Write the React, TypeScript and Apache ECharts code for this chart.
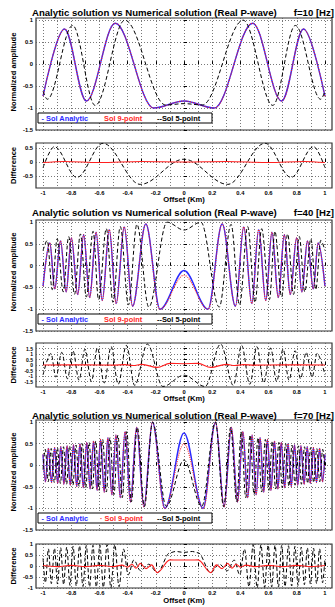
import React, { useEffect, useRef } from 'react';
import * as echarts from 'echarts';

// ---------------- data ----------------
const X_TICKS = [-1, -0.9, -0.8, -0.7, -0.6, -0.5, -0.4, -0.3, -0.2, -0.1, 0, 0.1, 0.2, 0.3, 0.4, 0.5, 0.6, 0.7, 0.8, 0.9, 1];
const X_LABELS = [-1, -0.8, -0.6, -0.4, -0.2, 0, 0.2, 0.4, 0.6, 0.8, 1];
const Y_MAIN_TICKS = [-1.5, -1, -0.5, 0, 0.5, 1];
const Y_DIFF_TICKS_10 = [-0.5, 0, 0.5];
const Y_DIFF_TICKS_40 = [-1.5, -1, -0.5, 0, 0.5, 1, 1.5];
const Y_DIFF_TICKS_70 = [-1, -0.5, 0, 0.5, 1];
const FREQ_LABELS = ['f=10 [Hz]', 'f=40 [Hz]', 'f=70 [Hz]'];
const TITLE = 'Analytic solution vs Numerical solution (Real P-wave)';
const LEGEND_ANA = '- Sol Analytic';
const LEGEND_NINE = ['Sol 9-point', 'Sol 9-point', '\u00b7 Sol 9-point'];
const LEGEND_FIVE = '--Sol 5-point';

// f = 10 Hz
const ana10 = [[-1.0, -0.73], [-0.848, 0.80], [-0.693, -0.84], [-0.488, 0.93], [-0.215, -1.0], [0, -0.84], [0.215, -1.0], [0.488, 0.93], [0.693, -0.84], [0.848, 0.80], [1.0, -0.73]];
const nine10 = [[-1.0, -0.73], [-0.848, 0.80], [-0.693, -0.84], [-0.488, 0.93], [-0.215, -1.0], [0, -0.84], [0.215, -1.0], [0.488, 0.93], [0.693, -0.84], [0.848, 0.80], [1.0, -0.73]];
const five10 = [[-1.0, -0.62], [-0.97, -0.80], [-0.79, 0.88], [-0.63, -0.94], [-0.42, 1.0], [-0.13, -0.93], [0, -0.90], [0.13, -0.93], [0.42, 1.0], [0.63, -0.94], [0.79, 0.88], [0.97, -0.80], [1.0, -0.62]];
const diffFive10 = [[-1.0, -0.2], [-0.92, 0.55], [-0.76, -0.55], [-0.575, 0.67], [-0.31, -0.8], [0, 0.1], [0.31, -0.8], [0.575, 0.67], [0.76, -0.55], [0.92, 0.55], [1.0, -0.2]];
const diffNine10 = [[-1.0, -0.02], [-0.85, 0.02], [-0.6, -0.02], [-0.3, 0.02], [0, 0.0], [0.3, 0.02], [0.6, -0.02], [0.85, 0.02], [1.0, -0.02]];

// f = 40 Hz
const ana40 = [[-1.0, -0.47], [-0.952, 0.52], [-0.917, -0.53], [-0.876, 0.57], [-0.836, -0.60], [-0.799, 0.64], [-0.754, -0.66], [-0.712, 0.71], [-0.669, -0.73], [-0.624, 0.77], [-0.580, -0.80], [-0.530, 0.83], [-0.481, -0.87], [-0.424, 0.89], [-0.365, -0.93], [-0.271, 0.96], [-0.170, -1.0], [0, -0.11], [0.170, -1.0], [0.271, 0.96], [0.365, -0.93], [0.424, 0.89], [0.481, -0.87], [0.530, 0.83], [0.580, -0.80], [0.624, 0.77], [0.669, -0.73], [0.712, 0.71], [0.754, -0.66], [0.799, 0.64], [0.836, -0.60], [0.876, 0.57], [0.917, -0.53], [0.952, 0.52], [1.0, -0.47]];
const nine40 = [[-1.0, -0.47], [-0.952, 0.52], [-0.917, -0.53], [-0.876, 0.57], [-0.836, -0.60], [-0.799, 0.64], [-0.754, -0.66], [-0.712, 0.71], [-0.669, -0.73], [-0.624, 0.77], [-0.580, -0.80], [-0.530, 0.83], [-0.481, -0.87], [-0.424, 0.89], [-0.365, -0.93], [-0.271, 0.96], [-0.172, -1.0], [0, -0.22], [0.172, -1.0], [0.271, 0.96], [0.365, -0.93], [0.424, 0.89], [0.481, -0.87], [0.530, 0.83], [0.580, -0.80], [0.624, 0.77], [0.669, -0.73], [0.712, 0.71], [0.754, -0.66], [0.799, 0.64], [0.836, -0.60], [0.876, 0.57], [0.917, -0.53], [0.952, 0.52], [1.0, -0.47]];
const five40 = [[-1.0, 0.35], [-0.970, 0.58], [-0.935, -0.55], [-0.900, 0.62], [-0.857, -0.60], [-0.818, 0.67], [-0.777, -0.66], [-0.735, 0.73], [-0.693, -0.72], [-0.645, 0.79], [-0.606, -0.78], [-0.551, 0.85], [-0.504, -0.84], [-0.452, 0.90], [-0.394, -0.90], [-0.334, 0.95], [-0.250, -0.95], [-0.120, 1.0], [0, 0.82], [0.120, 1.0], [0.250, -0.95], [0.334, 0.95], [0.394, -0.90], [0.452, 0.90], [0.504, -0.84], [0.551, 0.85], [0.606, -0.78], [0.645, 0.79], [0.693, -0.72], [0.735, 0.73], [0.777, -0.66], [0.818, 0.67], [0.857, -0.60], [0.900, 0.62], [0.935, -0.55], [0.970, 0.58], [1.0, 0.35]];
const diffFive40 = [[-1.0, -0.9], [-0.944, 1.05], [-0.909, -1.1], [-0.867, 1.15], [-0.827, -1.25], [-0.788, 1.3], [-0.745, -1.38], [-0.703, 1.43], [-0.657, -1.5], [-0.615, 1.55], [-0.566, -1.63], [-0.517, 1.67], [-0.467, -1.75], [-0.409, 1.78], [-0.35, -1.85], [-0.26, 1.9], [-0.15, -1.95], [0, -0.93], [0.15, -1.95], [0.26, 1.9], [0.35, -1.85], [0.409, 1.78], [0.467, -1.75], [0.517, 1.67], [0.566, -1.63], [0.615, 1.55], [0.657, -1.5], [0.703, 1.43], [0.745, -1.38], [0.788, 1.3], [0.827, -1.25], [0.867, 1.15], [0.909, -1.1], [0.944, 1.05], [1.0, -0.9]];
const diffNine40 = [[-1.0, 0.0], [-0.7, 0.01], [-0.5, -0.01], [-0.42, 0.03], [-0.36, -0.05], [-0.3, 0.06], [-0.19, -0.22], [-0.1, 0.15], [0, 0.12], [0.1, 0.15], [0.19, -0.22], [0.3, 0.06], [0.36, -0.05], [0.42, 0.03], [0.5, -0.01], [0.7, 0.01], [1.0, 0.0]];

// f = 70 Hz
const ana70 = [[-1.0, 0.25], [-0.983, -0.38], [-0.962, 0.39], [-0.940, -0.40], [-0.918, 0.41], [-0.896, -0.42], [-0.874, 0.43], [-0.852, -0.44], [-0.830, 0.45], [-0.807, -0.46], [-0.784, 0.47], [-0.761, -0.49], [-0.738, 0.50], [-0.714, -0.52], [-0.690, 0.53], [-0.666, -0.55], [-0.642, 0.56], [-0.617, -0.58], [-0.592, 0.60], [-0.566, -0.62], [-0.540, 0.64], [-0.512, -0.68], [-0.483, 0.70], [-0.452, -0.75], [-0.418, 0.78], [-0.380, -0.85], [-0.336, 0.88], [-0.285, -0.96], [-0.224, 1.0], [-0.135, -1.0], [0, 0.75], [0.135, -1.0], [0.224, 1.0], [0.285, -0.96], [0.336, 0.88], [0.380, -0.85], [0.418, 0.78], [0.452, -0.75], [0.483, 0.70], [0.512, -0.68], [0.540, 0.64], [0.566, -0.62], [0.592, 0.60], [0.617, -0.58], [0.642, 0.56], [0.666, -0.55], [0.690, 0.53], [0.714, -0.52], [0.738, 0.50], [0.761, -0.49], [0.784, 0.47], [0.807, -0.46], [0.830, 0.45], [0.852, -0.44], [0.874, 0.43], [0.896, -0.42], [0.918, 0.41], [0.940, -0.40], [0.962, 0.39], [0.983, -0.38], [1.0, 0.25]];
const nine70 = [[-1.0, 0.25], [-0.983, -0.38], [-0.962, 0.39], [-0.940, -0.40], [-0.918, 0.41], [-0.896, -0.42], [-0.874, 0.43], [-0.852, -0.44], [-0.830, 0.45], [-0.807, -0.46], [-0.784, 0.47], [-0.761, -0.49], [-0.738, 0.50], [-0.714, -0.52], [-0.690, 0.53], [-0.666, -0.55], [-0.642, 0.56], [-0.617, -0.58], [-0.592, 0.60], [-0.566, -0.62], [-0.540, 0.64], [-0.512, -0.68], [-0.483, 0.70], [-0.452, -0.75], [-0.418, 0.78], [-0.380, -0.85], [-0.336, 0.88], [-0.285, -0.96], [-0.224, 1.0], [-0.138, -1.0], [0, 0.5], [0.138, -1.0], [0.224, 1.0], [0.285, -0.96], [0.336, 0.88], [0.380, -0.85], [0.418, 0.78], [0.452, -0.75], [0.483, 0.70], [0.512, -0.68], [0.540, 0.64], [0.566, -0.62], [0.592, 0.60], [0.617, -0.58], [0.642, 0.56], [0.666, -0.55], [0.690, 0.53], [0.714, -0.52], [0.738, 0.50], [0.761, -0.49], [0.784, 0.47], [0.807, -0.46], [0.830, 0.45], [0.852, -0.44], [0.874, 0.43], [0.896, -0.42], [0.918, 0.41], [0.940, -0.40], [0.962, 0.39], [0.983, -0.38], [1.0, 0.25]];
const five70 = [[-1.0, -0.1], [-0.984, 0.37], [-0.963, -0.38], [-0.942, 0.39], [-0.920, -0.40], [-0.898, 0.41], [-0.877, -0.42], [-0.855, 0.43], [-0.833, -0.44], [-0.812, 0.45], [-0.788, -0.46], [-0.766, 0.47], [-0.744, -0.49], [-0.721, 0.50], [-0.697, -0.52], [-0.673, 0.53], [-0.650, -0.55], [-0.626, 0.56], [-0.602, -0.58], [-0.577, 0.60], [-0.551, -0.62], [-0.525, 0.64], [-0.497, -0.68], [-0.469, 0.70], [-0.438, -0.75], [-0.406, 0.78], [-0.374, -0.85], [-0.331, 0.88], [-0.281, -0.96], [-0.223, 1.0], [-0.126, -0.95], [0, 0.12], [0.126, -0.95], [0.223, 1.0], [0.281, -0.96], [0.331, 0.88], [0.374, -0.85], [0.406, 0.78], [0.438, -0.75], [0.469, 0.70], [0.497, -0.68], [0.525, 0.64], [0.551, -0.62], [0.577, 0.60], [0.602, -0.58], [0.626, 0.56], [0.650, -0.55], [0.673, 0.53], [0.697, -0.52], [0.721, 0.50], [0.744, -0.49], [0.766, 0.47], [0.788, -0.46], [0.812, 0.45], [0.833, -0.44], [0.855, 0.43], [0.877, -0.42], [0.898, 0.41], [0.920, -0.40], [0.942, 0.39], [0.963, -0.38], [0.984, 0.37], [1.0, -0.1]];
const diffFive70 = [[-1.0, 0.35], [-0.983, -0.76], [-0.962, 0.78], [-0.941, -0.80], [-0.919, 0.81], [-0.897, -0.82], [-0.875, 0.83], [-0.854, -0.85], [-0.832, 0.86], [-0.809, -0.88], [-0.787, 0.89], [-0.764, -0.91], [-0.741, 0.92], [-0.717, -0.93], [-0.693, 0.93], [-0.670, -0.95], [-0.646, 0.94], [-0.622, -0.95], [-0.597, 0.95], [-0.572, -0.97], [-0.546, 0.97], [-0.519, -0.99], [-0.491, 0.97], [-0.461, -0.94], [-0.429, 0.77], [-0.396, -0.40], [-0.356, 0.27], [-0.309, -0.21], [-0.25, 0.08], [-0.19, -0.3], [-0.1, 0.6], [-0.06, 0.66], [0, 0.62], [0.06, 0.66], [0.1, 0.6], [0.19, -0.3], [0.25, 0.08], [0.309, -0.21], [0.356, 0.27], [0.396, -0.40], [0.429, 0.77], [0.461, -0.94], [0.491, 0.97], [0.519, -0.99], [0.546, 0.97], [0.572, -0.97], [0.597, 0.95], [0.622, -0.95], [0.646, 0.94], [0.670, -0.95], [0.693, 0.93], [0.717, -0.93], [0.741, 0.92], [0.764, -0.91], [0.787, 0.89], [0.809, -0.88], [0.832, 0.86], [0.854, -0.85], [0.875, 0.83], [0.897, -0.82], [0.919, 0.81], [0.941, -0.80], [0.962, 0.78], [0.983, -0.76], [1.0, 0.35]];
const diffNine70 = [[-1.0, 0.02], [-0.9, -0.03], [-0.8, 0.03], [-0.7, -0.03], [-0.6, 0.03], [-0.5, -0.03], [-0.44, 0.04], [-0.40, -0.05], [-0.37, 0.08], [-0.34, -0.1], [-0.31, 0.12], [-0.27, -0.12], [-0.23, 0.05], [-0.19, -0.3], [-0.1, 0.28], [-0.05, 0.27], [0, 0.27], [0.05, 0.27], [0.1, 0.28], [0.19, -0.3], [0.23, 0.05], [0.27, -0.12], [0.31, 0.12], [0.34, -0.1], [0.37, 0.08], [0.40, -0.05], [0.44, 0.04], [0.5, -0.03], [0.6, 0.03], [0.7, -0.03], [0.8, 0.03], [0.9, -0.03], [1.0, 0.02]];

// ---------------- presentation ----------------
const FONT = '"Liberation Sans", Arial, sans-serif';
const BLUE = '#2a2aff';
const RED = '#ff1f1f';
const BLACK = '#000000';

const LAYOUT = [
  { title: 12, mainTop: 18, mainH: 112, diffTop: 143, diffH: 45, off: 199, nameMain: 72 },
  { title: 212, mainTop: 220, mainH: 111, diffTop: 343, diffH: 44, off: 398.5, nameMain: 272 },
  { title: 415, mainTop: 420, mainH: 110, diffTop: 544, diffH: 44, off: 600.5, nameMain: 472 },
];

const PANELS = [
  { ana: ana10, nine: nine10, five: five10, dNine: diffNine10, dFive: diffFive10, dMin: -0.93, dMax: 0.68, dTicks: Y_DIFF_TICKS_10, dFs: 5.8 },
  { ana: ana40, nine: nine40, five: five40, dNine: diffNine40, dFive: diffFive40, dMin: -2, dMax: 2, dTicks: Y_DIFF_TICKS_40, dFs: 5 },
  { ana: ana70, nine: nine70, five: five70, dNine: diffNine70, dFive: diffFive70, dMin: -1, dMax: 1, dTicks: Y_DIFF_TICKS_70, dFs: 5.8 },
];

const GRID_LEFT = 36;
const GRID_W = 296;

function makeX(gridIndex: number, labels: boolean) {
  return {
    type: 'value', gridIndex, min: -1.05, max: 1.05,
    axisLine: { show: false },
    axisTick: { show: true, inside: true, length: 3, customValues: X_TICKS, lineStyle: { color: '#000', width: 1 } },
    axisLabel: {
      show: labels, customValues: X_LABELS, fontSize: 5.8, fontWeight: 'bold', color: '#000', margin: 1.5,
      fontFamily: FONT, formatter: (v: number) => String(v),
    },
    splitLine: { show: true, lineStyle: { color: '#555', type: [1, 2], width: 0.8 } },
  };
}

function makeY(gridIndex: number, min: number, max: number, ticks: number[], fs: number) {
  return {
    type: 'value', gridIndex, min, max,
    axisLine: { show: false },
    axisTick: { show: true, inside: true, length: 3, customValues: ticks, lineStyle: { color: '#000', width: 1 } },
    axisLabel: {
      show: true, customValues: ticks, fontSize: fs, fontWeight: 'bold', color: '#000', margin: 3,
      fontFamily: FONT, formatter: (v: number) => String(v),
    },
    splitLine: { show: true, lineStyle: { color: '#555', type: [1, 2], width: 0.8 } },
  };
}

function line(axisIndex: number, data: number[][], color: string, type: any, width: number, z: number) {
  return {
    type: 'line', xAxisIndex: axisIndex, yAxisIndex: axisIndex, data,
    symbol: 'none', showSymbol: false, smooth: 0.35, smoothMonotone: 'x',
    lineStyle: { color, width, type }, silent: true, z, clip: true,
  };
}

function txt(x: number, y: number, text: string, font: string, fill: string, align: string, rotation = 0) {
  return {
    type: 'text', x, y, rotation, z: 100, silent: true,
    style: { text, font, fill, align, verticalAlign: 'middle', textAlign: align, textVerticalAlign: 'middle' },
  };
}

function buildOption() {
  const grid: any[] = [];
  const xAxis: any[] = [];
  const yAxis: any[] = [];
  const series: any[] = [];
  const graphic: any[] = [];
  PANELS.forEach((p, i) => {
    const L = LAYOUT[i];
    const gm = i * 2;
    const gd = i * 2 + 1;
    grid.push({ left: GRID_LEFT, width: GRID_W, top: L.mainTop, height: L.mainH, show: true, borderColor: '#333', borderWidth: 1.2 });
    grid.push({ left: GRID_LEFT, width: GRID_W, top: L.diffTop, height: L.diffH, show: true, borderColor: '#333', borderWidth: 1.2 });
    xAxis.push(makeX(gm, false));
    xAxis.push(makeX(gd, true));
    yAxis.push(makeY(gm, -1.5, 1.05, Y_MAIN_TICKS, 5.8));
    yAxis.push(makeY(gd, p.dMin, p.dMax, p.dTicks, p.dFs));
    series.push(line(gm, p.ana, BLUE, 'solid', 1.4, 3));
    series.push(line(gm, p.nine, RED, [1, 1.2], 1.1, 4));
    series.push(line(gm, p.five, BLACK, [4, 2.5], 1, 5));
    series.push(line(gd, p.dFive, BLACK, [4, 2.5], 1, 3));
    series.push(line(gd, p.dNine, RED, 'solid', 1.1, 4));

    const titleFont = `bold 9.6px ${FONT}`;
    graphic.push(txt(32, L.title, TITLE, titleFont, '#000', 'left'));
    graphic.push(txt(334, L.title, FREQ_LABELS[i], titleFont, '#000', 'right'));
    graphic.push(txt(13, L.nameMain, 'Normalized amplitude', `bold 7.6px ${FONT}`, '#000', 'center', Math.PI / 2));
    graphic.push(txt(13, L.diffTop + L.diffH / 2, 'Difference', `bold 7.6px ${FONT}`, '#000', 'center', Math.PI / 2));
    graphic.push(txt(184, L.off, 'Offset (Km)', `bold 7.6px ${FONT}`, '#000', 'center'));

    const ly = L.mainTop + L.mainH - 17;
    graphic.push({
      type: 'rect', z: 99, silent: true,
      shape: { x: 38, y: ly, width: 174, height: 10 },
      style: { fill: '#fff', stroke: '#000', lineWidth: 1 },
    });
    const lf = `bold 7.4px ${FONT}`;
    graphic.push(txt(41.5, ly + 5, LEGEND_ANA, lf, BLUE, 'left'));
    graphic.push(txt(i === 2 ? 100 : 104, ly + 5, LEGEND_NINE[i], lf, RED, 'left'));
    graphic.push(txt(157, ly + 5, LEGEND_FIVE, lf, BLACK, 'left'));
  });
  return { animation: false, backgroundColor: '#fff', grid, xAxis, yAxis, series, graphic };
}

export default function App() {
  const ref = useRef<HTMLDivElement>(null);
  useEffect(() => {
    if (!ref.current) return;
    const chart = echarts.init(ref.current, null, { renderer: 'svg' });
    chart.setOption(buildOption() as any);
    return () => chart.dispose();
  }, []);
  return <div ref={ref} style={{ position: 'fixed', left: 0, top: 0, width: 335, height: 607, background: '#fff' }} />;
}
